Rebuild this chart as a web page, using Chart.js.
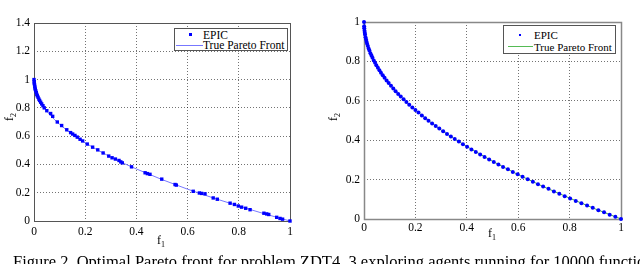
<!DOCTYPE html>
<html>
<head>
<meta charset="utf-8">
<script src="https://cdn.jsdelivr.net/npm/chart.js@4.4.1/dist/chart.umd.min.js"></script>
<style>
  html, body { margin: 0; padding: 0; background: #fff; }
  #page { position: relative; width: 640px; height: 264px; overflow: hidden;
          font-family: "Liberation Serif", "Times New Roman", serif; color: #000; }
  .plot { position: absolute; top: 0; width: 320px; height: 250px; }
  .lbl { position: absolute; font-size: 12px; line-height: 12px; white-space: nowrap; }
  .lbl sub { font-size: 8px; line-height: 0; vertical-align: -3px; }
  .rot { transform: rotate(-90deg); transform-origin: center center; }
  .legend { position: absolute; box-sizing: border-box; border: 1px solid #555; background: #fff; }
  .legend span { position: absolute; white-space: nowrap; line-height: 12px; }
  .legend i { position: absolute; display: block; }
  #caption { position: absolute; left: 13px; top: 253px; font-size: 16.5px; line-height: 17px; white-space: nowrap; }
</style>
</head>
<body>
<div id="page">
  <div class="plot" style="left:0"><canvas id="left"></canvas></div>
  <div class="plot" style="left:320px"><canvas id="right"></canvas></div>

  <div class="lbl" style="left:157px;top:234px">f<sub>1</sub></div>
  <div class="lbl rot" style="left:5px;top:111px">f<sub>2</sub></div>
  <div class="lbl" style="left:488px;top:227px">f<sub>1</sub></div>
  <div class="lbl rot" style="left:329px;top:111px">f<sub>2</sub></div>

  <div class="legend" style="left:174px;top:28px;width:114px;height:23px;font-size:11.5px">
    <i style="left:14px;top:4px;width:3px;height:3px;background:#0000ff"></i>
    <span style="left:28px;top:0px">EPIC</span>
    <i style="left:1px;top:16px;width:27px;height:1px;background:#7777ff"></i>
    <span style="left:28px;top:10px">True Pareto Front</span>
  </div>
  <div class="legend" style="left:503px;top:25px;width:113px;height:29px;font-size:11px">
    <i style="left:15px;top:8px;width:2px;height:2px;background:#0000ff"></i>
    <span style="left:30px;top:3px">EPIC</span>
    <i style="left:4px;top:20px;width:25px;height:1px;background:#55bb55"></i>
    <span style="left:30px;top:15px">True Pareto Front</span>
  </div>

  <div id="caption">Figure 2. Optimal Pareto front for problem ZDT4. 3 exploring agents running for 10000 function evaluations</div>
</div>

<script>
// true Pareto front
const frontF1 = [0, 0.0002, 0.001, 0.003, 0.005, 0.01, 0.02, 0.03, 0.04, 0.06, 0.08, 0.1, 0.13, 0.16, 0.2, 0.25, 0.3, 0.35, 0.4, 0.5, 0.6, 0.7, 0.8, 0.9, 1];
const frontF2 = [1, 0.986, 0.968, 0.945, 0.929, 0.9, 0.859, 0.827, 0.8, 0.755, 0.717, 0.684, 0.639, 0.6, 0.553, 0.5, 0.452, 0.408, 0.368, 0.293, 0.225, 0.163, 0.106, 0.051, 0];

// left panel: EPIC points
const leftF1 = [0, 0.001, 0.001, 0.002, 0.003, 0.004, 0.005, 0.007, 0.009, 0.011, 0.013, 0.016, 0.019, 0.022, 0.026, 0.03, 0.035, 0.04,
  0.05, 0.065, 0.073, 0.091, 0.108, 0.128, 0.143, 0.151, 0.16, 0.169, 0.18, 0.19, 0.208, 0.229, 0.249, 0.27, 0.292, 0.305, 0.318, 0.332,
  0.339, 0.345, 0.381, 0.434, 0.443, 0.453, 0.499, 0.551, 0.556, 0.622, 0.646, 0.655, 0.668, 0.7, 0.716, 0.766, 0.783, 0.798, 0.811,
  0.827, 0.844, 0.898, 0.909, 0.917, 0.948, 0.961, 0.971, 1];
const leftF2 = [1, 0.985, 0.975, 0.965, 0.952, 0.94, 0.93, 0.92, 0.908, 0.895, 0.885, 0.875, 0.862, 0.852, 0.84, 0.828, 0.815, 0.8,
  0.78, 0.76, 0.74, 0.7, 0.675, 0.645, 0.625, 0.615, 0.605, 0.593, 0.578, 0.566, 0.544, 0.522, 0.503, 0.481, 0.459, 0.447, 0.438, 0.428,
  0.418, 0.411, 0.383, 0.341, 0.335, 0.33, 0.296, 0.258, 0.254, 0.21, 0.198, 0.195, 0.192, 0.163, 0.154, 0.126, 0.117, 0.106, 0.098,
  0.09, 0.08, 0.055, 0.05, 0.046, 0.026, 0.018, 0.013, 0];

// right panel: EPIC points (dense along the front)
const rightF1 = [0, 0.0005, 0.001, 0.002, 0.003, 0.004, 0.006, 0.008, 0.010, 0.012, 0.015, 0.018, 0.021, 0.025, 0.029, 0.033, 0.038,
  0.043, 0.048, 0.054, 0.060, 0.066, 0.073, 0.080, 0.088, 0.096, 0.105, 0.114, 0.123, 0.133, 0.143, 0.154, 0.165, 0.176, 0.188, 0.200,
  0.212, 0.225, 0.238, 0.251, 0.265, 0.279, 0.293, 0.308, 0.323, 0.338, 0.353, 0.369, 0.385, 0.401, 0.418, 0.435, 0.452, 0.469, 0.487,
  0.505, 0.523, 0.541, 0.560, 0.579, 0.598, 0.617, 0.637, 0.657, 0.677, 0.697, 0.718, 0.739, 0.760, 0.781, 0.802, 0.824, 0.846, 0.868,
  0.890, 0.912, 0.934, 0.956, 0.978, 1.0];
const rightF2 = [1, 0.978, 0.968, 0.955, 0.945, 0.937, 0.923, 0.911, 0.900, 0.890, 0.878, 0.866, 0.855, 0.842, 0.830, 0.818, 0.805,
  0.793, 0.781, 0.768, 0.755, 0.743, 0.730, 0.717, 0.703, 0.690, 0.676, 0.662, 0.649, 0.635, 0.622, 0.608, 0.594, 0.580, 0.566, 0.553,
  0.540, 0.526, 0.512, 0.499, 0.485, 0.472, 0.459, 0.445, 0.432, 0.419, 0.406, 0.393, 0.380, 0.367, 0.353, 0.340, 0.328, 0.315, 0.302,
  0.289, 0.277, 0.264, 0.252, 0.239, 0.227, 0.215, 0.202, 0.189, 0.177, 0.165, 0.153, 0.140, 0.128, 0.116, 0.104, 0.092, 0.080, 0.068,
  0.057, 0.045, 0.034, 0.022, 0.011, 0];

const toPts = (xs, ys) => xs.map((x, i) => ({ x, y: ys[i] }));

// MATLAB style box around the axes
const framePlugin = {
  id: 'frame',
  beforeDatasetsDraw(chart, args, opts) {
    const { ctx, chartArea: a } = chart;
    ctx.save();
    ctx.setLineDash([]);
    ctx.strokeStyle = opts.color;
    ctx.lineWidth = opts.width;
    ctx.strokeRect(Math.round(a.left) + 0.5, Math.round(a.top) + 0.5,
      Math.round(a.right - a.left), Math.round(a.bottom - a.top));
    ctx.restore();
  }
};

const fmt = v => String(+v.toFixed(1));

function makeChart(id, o) {
  const tickFont = { family: "'Liberation Serif', serif", size: 11.5 };
  return new Chart(document.getElementById(id), {
    type: 'scatter',
    data: {
      datasets: [
        { label: 'EPIC', data: toPts(o.xs, o.ys), backgroundColor: '#0000ff', borderWidth: 0,
          pointStyle: o.pointStyle, pointRadius: o.pointRadius, clip: false },
        { label: 'True Pareto Front', data: toPts(frontF1, frontF2), showLine: true,
          borderColor: o.lineColor, borderWidth: 1, pointRadius: 0 }
      ]
    },
    options: {
      animation: false,
      responsive: false,
      devicePixelRatio: 1,
      layout: { padding: o.padding },
      plugins: { legend: { display: false }, tooltip: { enabled: false }, frame: o.frame },
      scales: {
        x: {
          type: 'linear', min: 0, max: 1,
          ticks: { stepSize: 0.2, color: '#000', font: tickFont, padding: o.xPad, maxRotation: 0, callback: fmt },
          grid: { color: 'rgba(0,0,0,0.55)', drawTicks: false },
          border: { display: false, dash: [1, 2] },
          afterFit(s) { s.height = o.xH; }
        },
        y: {
          min: 0, max: o.yMax,
          ticks: { stepSize: 0.2, color: '#000', font: tickFont, padding: 4, callback: fmt },
          grid: { color: 'rgba(0,0,0,0.55)', drawTicks: false },
          border: { display: false, dash: [1, 2] },
          afterFit(s) { s.width = o.yW; }
        }
      }
    },
    plugins: [framePlugin]
  });
}

function sizeCanvas(id) {
  const c = document.getElementById(id);
  c.width = 320; c.height = 250;
  c.style.width = '320px'; c.style.height = '250px';
}
sizeCanvas('left');
sizeCanvas('right');

makeChart('left', {
  xs: leftF1, ys: leftF2, yMax: 1.4, lineColor: '#7777ff',
  pointStyle: 'rect', pointRadius: 2.4,
  padding: { top: 23, right: 30, left: 0, bottom: 0 }, yW: 34, xH: 29, xPad: 4,
  frame: { color: '#555', width: 1 }
});
makeChart('right', {
  xs: rightF1, ys: rightF2, yMax: 1, lineColor: '#44aa44',
  pointStyle: 'circle', pointRadius: 2,
  padding: { top: 22, right: 19, left: 0, bottom: 0 }, yW: 44, xH: 31, xPad: 2,
  frame: { color: '#888', width: 1.5 }
});
</script>
</body>
</html>
